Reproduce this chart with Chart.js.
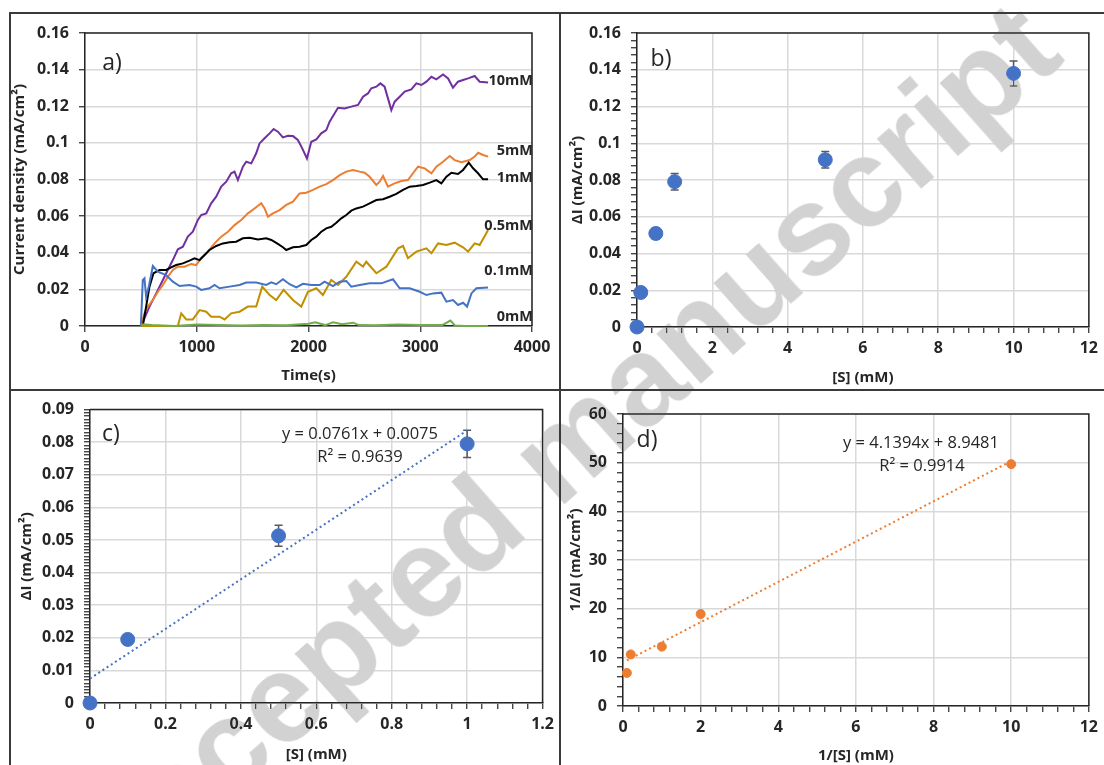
<!DOCTYPE html>
<html><head><meta charset="utf-8">
<script src="https://cdn.jsdelivr.net/npm/chart.js@4.4.0/dist/chart.umd.min.js"></script>
<style>
body{margin:0;background:#fff;width:1104px;height:765px;overflow:hidden;position:relative;font-family:'Open Sans',sans-serif;}
canvas{position:absolute;}
.ln{position:absolute;background:#3a3a3a;}
.lbl{position:absolute;color:#262626;white-space:nowrap;transform:translate(-50%,-50%);}
.pl{font-size:23px;}
.eq{font-size:16.5px;}
#wm{position:absolute;left:558px;top:452px;transform:translate(-50%,-50%) rotate(-41.5deg);font:bold 126px 'Liberation Sans',sans-serif;color:#d2d2d2;white-space:nowrap;mix-blend-mode:darken;pointer-events:none;}
</style></head><body>
<canvas id="ca" width="550" height="377" style="left:10px;top:13px"></canvas>
<canvas id="cb" width="544" height="377" style="left:560px;top:13px"></canvas>
<canvas id="cc" width="550" height="375" style="left:10px;top:390px"></canvas>
<canvas id="cd" width="544" height="375" style="left:560px;top:390px"></canvas>

<div class="ln" style="left:9px;top:12px;width:1095px;height:2px"></div>
<div class="ln" style="left:9px;top:12px;width:2px;height:753px"></div>
<div class="ln" style="left:559px;top:12px;width:2px;height:753px"></div>
<div class="ln" style="left:9px;top:389px;width:1095px;height:2px"></div>

<div class="lbl pl" style="left:112px;top:61px">a)</div>
<div class="lbl pl" style="left:661px;top:57px">b)</div>
<div class="lbl pl" style="left:111px;top:432px">c)</div>
<div class="lbl pl" style="left:647px;top:438px">d)</div>
<div class="lbl eq" style="left:360px;top:432px">y = 0.0761x + 0.0075</div>
<div class="lbl eq" style="left:360px;top:455px">R² = 0.9639</div>
<div class="lbl eq" style="left:921px;top:441px">y = 4.1394x + 8.9481</div>
<div class="lbl eq" style="left:922px;top:464px">R² = 0.9914</div>

<div id="wm">Accepted manuscript</div>

<script>
// ---------- Panel a: current density vs time ----------
const t10 = [502,532,577,637,697,741,786,831,876,920,965,1010,1040,1085,1129,1174,1219,1264,1308,1338,1368,1413,1443,1488,1532,1562,1607,1652,1688,1726,1771,1816,1861,1905,1944,1986,2025,2070,2114,2159,2189,2225,2264,2323,2383,2443,2488,2532,2562,2607,2643,2681,2711,2741,2771,2816,2861,2920,2965,3010,3055,3100,3144,3204,3249,3293,3338,3383,3428,3487,3532,3607];
const v10 = [0,0.0042,0.0106,0.0178,0.0251,0.0306,0.036,0.0419,0.0433,0.0488,0.0515,0.0579,0.0606,0.0615,0.067,0.0706,0.0761,0.0788,0.0834,0.0843,0.0797,0.087,0.0897,0.0888,0.0943,0.0997,0.1025,0.1052,0.1076,0.1061,0.103,0.1039,0.1037,0.1016,0.097,0.0915,0.1006,0.1019,0.1052,0.107,0.1116,0.1152,0.1192,0.1188,0.1198,0.1207,0.1252,0.127,0.1298,0.1307,0.1325,0.1307,0.1243,0.1179,0.1225,0.1252,0.128,0.1292,0.1325,0.1316,0.1334,0.1361,0.1347,0.1374,0.1352,0.1301,0.1334,0.1343,0.1352,0.1365,0.1334,0.133];
const t5 = [502,532,562,607,652,697,741,786,831,890,950,995,1040,1100,1159,1219,1279,1338,1398,1458,1517,1577,1607,1637,1682,1741,1801,1861,1920,1980,2040,2100,2159,2219,2279,2338,2398,2458,2503,2547,2607,2637,2667,2711,2771,2831,2890,2935,2980,3040,3100,3144,3204,3264,3308,3368,3443,3487,3518,3562,3607];
const v5 = [0,0.0069,0.0106,0.0142,0.0187,0.0224,0.0269,0.0306,0.0324,0.0324,0.0339,0.0333,0.037,0.0406,0.0451,0.0488,0.0515,0.0551,0.0579,0.0615,0.0642,0.067,0.0642,0.0597,0.0615,0.0633,0.0661,0.0679,0.0724,0.0728,0.0743,0.0761,0.0775,0.0797,0.0824,0.0843,0.0852,0.0843,0.0837,0.0815,0.077,0.0788,0.0819,0.0761,0.0779,0.0792,0.0797,0.0834,0.087,0.0861,0.0834,0.087,0.0897,0.0928,0.0906,0.0894,0.0906,0.0925,0.0946,0.0934,0.0925];
const t1 = [517,547,577,613,667,726,771,816,876,935,980,1025,1070,1114,1174,1234,1294,1353,1413,1473,1547,1622,1667,1726,1771,1801,1861,1920,1980,2025,2070,2114,2159,2204,2249,2293,2338,2383,2428,2488,2547,2607,2667,2726,2786,2846,2905,2965,3025,3085,3144,3189,3234,3279,3338,3383,3434,3473,3517,3562,3607];
const v1 = [0,0.0106,0.0215,0.0288,0.0306,0.0306,0.032,0.0333,0.0342,0.0357,0.037,0.036,0.0388,0.0415,0.0437,0.0451,0.0457,0.046,0.0479,0.0482,0.0473,0.0479,0.047,0.0448,0.043,0.0415,0.043,0.0433,0.0442,0.047,0.0488,0.0515,0.0533,0.0542,0.0564,0.0588,0.0606,0.063,0.0642,0.0652,0.067,0.0688,0.0692,0.0706,0.0721,0.0743,0.0761,0.0764,0.077,0.0783,0.0797,0.0779,0.0815,0.0837,0.083,0.0852,0.0892,0.0861,0.0834,0.0801,0.0801];
const t05 = [500,831,861,906,965,1025,1085,1129,1204,1249,1308,1383,1458,1532,1586,1652,1711,1777,1861,1935,1995,2070,2129,2204,2264,2338,2428,2488,2517,2607,2697,2801,2846,2890,2965,3055,3100,3159,3234,3308,3383,3428,3487,3532,3607];
const v05 = [0,0,0.0069,0.0036,0.0036,0.0087,0.0078,0.0051,0.0051,0.0036,0.0069,0.0078,0.0106,0.0106,0.0215,0.0169,0.0142,0.0197,0.0142,0.0106,0.0187,0.0206,0.0169,0.0251,0.0224,0.0269,0.0351,0.0324,0.0351,0.0288,0.0324,0.0424,0.0437,0.037,0.0406,0.0424,0.0397,0.0451,0.0442,0.0455,0.043,0.0406,0.0451,0.0442,0.0524];
const t01 = [500,517,532,547,571,607,652,726,786,846,935,995,1040,1114,1159,1204,1294,1383,1443,1532,1622,1667,1711,1771,1831,1891,1950,2025,2100,2144,2219,2279,2338,2383,2458,2547,2652,2756,2816,2905,2995,3055,3114,3189,3234,3293,3338,3383,3419,3458,3502,3607];
const v01 = [0,0.025,0.026,0.016,0.0215,0.0328,0.0297,0.0278,0.0242,0.0218,0.0224,0.0215,0.0197,0.0206,0.0224,0.0206,0.0215,0.0224,0.0237,0.0237,0.0224,0.0238,0.0228,0.0255,0.0228,0.0211,0.023,0.0224,0.0224,0.0242,0.0218,0.0242,0.0246,0.0215,0.0224,0.0233,0.0233,0.0255,0.0206,0.0206,0.0187,0.0169,0.0178,0.0182,0.0133,0.0142,0.0115,0.0127,0.0106,0.0178,0.0206,0.021];
const t0 = [500,600,800,1000,1200,1400,1600,1800,2000,2060,2150,2220,2300,2400,2450,2600,2800,3000,3200,3270,3310,3400,3607];
const v0 = [0.001,0.0005,0,0.0008,0.0005,0.0003,0.0006,0.0004,0.0012,0.002,0.0005,0.002,0.001,0.0018,0.0005,0.0004,0.0008,0.0005,0.0006,0.003,0.0003,0,0];
const seriesNames = ['10mM','5mM','1mM','0.5mM','0.1mM','0mM'];
const seriesColors = ['#7030A0','#ED7D31','#000000','#BF9000','#4472C4','#70AD47'];
const labelY = [0.1338,0.0956,0.0808,0.0546,0.030,0.0049];

// ---------- Panels b, c: ΔI vs [S] ----------
const sB = [0,0.1,0.5,1,5,10];
const dB = [0,0.0188,0.0509,0.0791,0.091,0.138];
const eB = [0,0.001,0.003,0.0045,0.0045,0.0068];
const sC = [0,0.1,0.5,1];
const dC = [0,0.0195,0.0513,0.0795];
const eC = [0,0.001,0.0032,0.0042];
const fitCx = [0,1];
const fitCy = [0.0075,0.0836];

// ---------- Panel d: 1/ΔI vs 1/[S] ----------
const invS = [0.1,0.2,1,2,10];
const invD = [6.8,10.6,12.2,18.9,49.7];
const fitDx = [0.1,10];
const fitDy = [9.36,50.34];

Chart.defaults.font.family = "'Open Sans', sans-serif";
Chart.defaults.color = '#262626';
Chart.defaults.animation = false;

const pts = (xs, ys) => xs.map((x, i) => ({x, y: ys[i]}));
const isMul = (v, step) => { const r = v / step; return Math.abs(r - Math.round(r)) < 1e-6; };
const fmt = v => String(parseFloat(v.toFixed(4)));
const tickFont = {size: 16, weight: 'bold'};
const titleFont = {size: 15, weight: 'bold'};

function axis(o) {
  return {
    type: 'linear', min: o.min, max: o.max, position: o.pos,
    afterFit: s => { if (o.pos === 'left') s.width = o.size; else s.height = o.size; },
    ticks: {
      stepSize: o.minor, maxTicksLimit: 1000, autoSkip: false, maxRotation: 0,
      font: tickFont, color: '#262626', padding: o.pad,
      callback: v => isMul(v, o.major) ? fmt(v) : ''
    },
    grid: {
      color: c => (c.tick && isMul(c.tick.value, o.major)) ? '#d9d9d9' : 'rgba(0,0,0,0)',
      lineWidth: 1.5, tickLength: 6, tickColor: '#262626', tickWidth: 1.2
    },
    border: {color: '#262626', width: 1.5},
    title: {display: true, text: o.title, font: titleFont, color: '#262626', padding: 0}
  };
}

const framePlugin = {
  id: 'frame',
  beforeDatasetsDraw(chart) {
    const {ctx, chartArea: a} = chart;
    ctx.save(); ctx.strokeStyle = '#262626'; ctx.lineWidth = 1.5;
    ctx.beginPath(); ctx.moveTo(a.left, a.top); ctx.lineTo(a.right, a.top); ctx.lineTo(a.right, a.bottom); ctx.stroke();
    ctx.restore();
  }
};

const errPlugin = {
  id: 'errbars',
  beforeDatasetsDraw(chart, args, o) {
    if (!o || !o.xs) return;
    const {ctx, scales: {x, y}} = chart;
    ctx.save(); ctx.strokeStyle = '#595959'; ctx.lineWidth = 1.5;
    o.xs.forEach((xv, i) => {
      const e = o.err[i]; if (!e) return;
      const px = x.getPixelForValue(xv);
      const t = y.getPixelForValue(o.ys[i] + e), b = y.getPixelForValue(o.ys[i] - e);
      ctx.beginPath();
      ctx.moveTo(px, t); ctx.lineTo(px, b);
      ctx.moveTo(px - 4, t); ctx.lineTo(px + 4, t);
      ctx.moveTo(px - 4, b); ctx.lineTo(px + 4, b);
      ctx.stroke();
    });
    ctx.restore();
  }
};

const seriesLabelPlugin = {
  id: 'serieslabels',
  afterDatasetsDraw(chart) {
    const {ctx, chartArea: a, scales: {y}} = chart;
    ctx.save(); ctx.font = "bold 14.5px 'Open Sans'"; ctx.fillStyle = '#262626';
    ctx.textAlign = 'right'; ctx.textBaseline = 'middle';
    seriesNames.forEach((n, i) => ctx.fillText(n, a.right + 1, y.getPixelForValue(labelY[i])));
    ctx.restore();
  }
};

// Panel a
const tsX = [t10, t5, t1, t05, t01, t0], tsY = [v10, v5, v1, v05, v01, v0];
new Chart(document.getElementById('ca'), {
  type: 'line',
  data: {datasets: tsX.map((tx, i) => ({
    label: seriesNames[i], data: pts(tx, tsY[i]), borderColor: seriesColors[i],
    borderWidth: 2, pointRadius: 0, tension: 0, clip: 3
  })).reverse()},
  options: {
    responsive: false, devicePixelRatio: 1,
    layout: {padding: {left: 1, top: 20, right: 28, bottom: 5}},
    plugins: {legend: {display: false}, tooltip: {enabled: false}},
    scales: {
      x: axis({min: 0, max: 4000, minor: 1000, major: 1000, pos: 'bottom', size: 59, pad: 6, title: 'Time(s)'}),
      y: axis({min: 0, max: 0.16, minor: 0.02, major: 0.02, pos: 'left', size: 74, pad: 10, title: 'Current density (mA/cm²)'})
    }
  },
  plugins: [framePlugin, seriesLabelPlugin]
});

// Panel b
new Chart(document.getElementById('cb'), {
  type: 'scatter',
  data: {datasets: [{data: pts(sB, dB), backgroundColor: '#4472C4', borderColor: '#4472C4', pointRadius: 7, clip: false}]},
  options: {
    responsive: false, devicePixelRatio: 1,
    layout: {padding: {left: 9, top: 20, right: 10, bottom: 3}},
    plugins: {legend: {display: false}, tooltip: {enabled: false}, errbars: {xs: sB, ys: dB, err: eB}},
    scales: {
      x: axis({min: 0, max: 12, minor: 0.4, major: 2, pos: 'bottom', size: 60, pad: 6, title: '[S] (mM)'}),
      y: axis({min: 0, max: 0.16, minor: 0.004, major: 0.02, pos: 'left', size: 68, pad: 10, title: 'ΔI (mA/cm²)'})
    }
  },
  plugins: [framePlugin, errPlugin]
});

// Panel c
new Chart(document.getElementById('cc'), {
  type: 'scatter',
  data: {datasets: [
    {data: pts(sC, dC), backgroundColor: '#4472C4', borderColor: '#4472C4', pointRadius: 7, clip: false},
    {data: pts(fitCx, fitCy), showLine: true, borderColor: '#4472C4', borderWidth: 2, borderDash: [2, 3], pointRadius: 0, clip: false}
  ]},
  options: {
    responsive: false, devicePixelRatio: 1,
    layout: {padding: {left: 8, top: 19, right: 15, bottom: 1}},
    plugins: {legend: {display: false}, tooltip: {enabled: false}, errbars: {xs: sC, ys: dC, err: eC}},
    scales: {
      x: axis({min: 0, max: 1.2, minor: 0.04, major: 0.2, pos: 'bottom', size: 61, pad: 6, title: '[S] (mM)'}),
      y: axis({min: 0, max: 0.09, minor: 0.001, major: 0.01, pos: 'left', size: 72, pad: 10, title: 'ΔI (mA/cm²)'})
    }
  },
  plugins: [framePlugin, errPlugin]
});

// Panel d
new Chart(document.getElementById('cd'), {
  type: 'scatter',
  data: {datasets: [
    {data: pts(invS, invD), backgroundColor: '#ED7D31', borderColor: '#ED7D31', pointRadius: 4.5, clip: false},
    {data: pts(fitDx, fitDy), showLine: true, borderColor: '#ED7D31', borderWidth: 2, borderDash: [2, 3], pointRadius: 0, clip: false}
  ]},
  options: {
    responsive: false, devicePixelRatio: 1,
    layout: {padding: {left: 7, top: 24, right: 10, bottom: 0}},
    plugins: {legend: {display: false}, tooltip: {enabled: false}},
    scales: {
      x: axis({min: 0, max: 12, minor: 0.4, major: 2, pos: 'bottom', size: 59, pad: 6, title: '1/[S] (mM)'}),
      y: axis({min: 0, max: 60, minor: 2, major: 10, pos: 'left', size: 56, pad: 10, title: '1/ΔI (mA/cm²)'})
    }
  },
  plugins: [framePlugin]
});
</script>
</body></html>
